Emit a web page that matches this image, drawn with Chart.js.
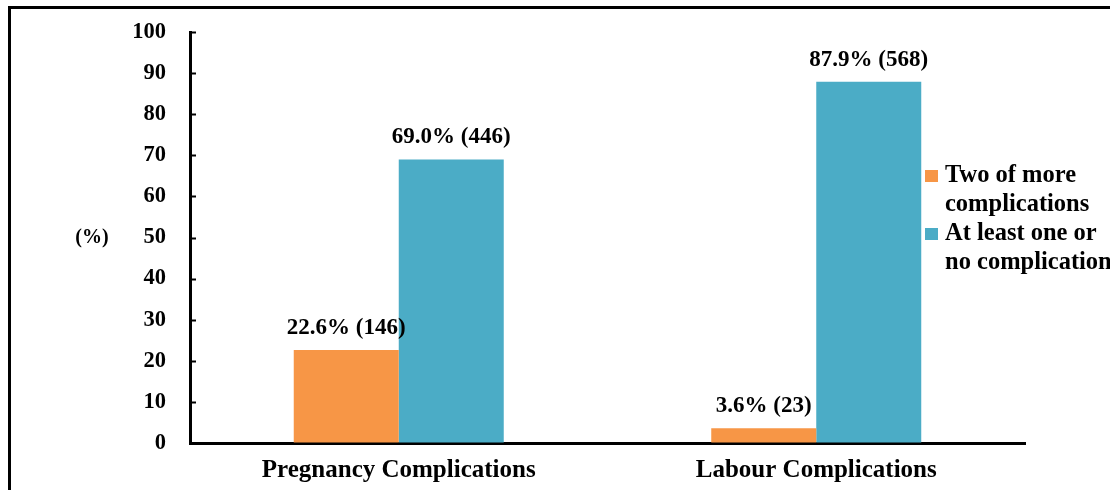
<!DOCTYPE html>
<html>
<head>
<meta charset="utf-8">
<script src="https://cdn.jsdelivr.net/npm/chart.js@4"></script>
<style>
  html, body { margin: 0; padding: 0; background: #fff; }
  #wrap { width: 1110px; height: 490px; position: relative; }
</style>
</head>
<body>
<div id="wrap"><canvas id="canvas" width="1110" height="490"></canvas></div>
<script>
var categories = ['Pregnancy Complications', 'Labour Complications'];
var seriesNames = [['Two of more', 'complications'], ['At least one or', 'no complications']];
var twoOrMore = [22.6, 3.6];
var twoOrMoreN = [146, 23];
var atLeastOne = [69.0, 87.9];
var atLeastOneN = [446, 568];
var yTicks = [0, 10, 20, 30, 40, 50, 60, 70, 80, 90, 100];

var FONT = '"Liberation Serif", "Times New Roman", serif';

// frame, y title, inward ticks, bar labels, legend
var extras = {
  id: 'extras',
  afterDraw: function(chart) {
    var ctx = chart.ctx;
    var y = chart.scales.y;
    var area = chart.chartArea;
    ctx.save();
    // outer frame
    ctx.strokeStyle = '#000';
    ctx.lineWidth = 3;
    ctx.beginPath();
    ctx.moveTo(9.5, 490);
    ctx.lineTo(9.5, 7.5);
    ctx.lineTo(1110, 7.5);
    ctx.stroke();
    // inward tick marks
    ctx.lineWidth = 2;
    yTicks.forEach(function(v) {
      var py = Math.round(y.getPixelForValue(v)) + 0.5;
      ctx.beginPath();
      ctx.moveTo(area.left, py);
      ctx.lineTo(area.left + 6, py);
      ctx.stroke();
    });
    // y title
    ctx.fillStyle = '#000';
    ctx.font = 'bold 20px ' + FONT;
    ctx.textAlign = 'center';
    ctx.textBaseline = 'middle';
    ctx.fillText('(%)', 92, y.getPixelForValue(50));
    // bar labels
    ctx.font = 'bold 23px ' + FONT;
    var counts = [twoOrMoreN, atLeastOneN];
    chart.data.datasets.forEach(function(ds, di) {
      chart.getDatasetMeta(di).data.forEach(function(bar, i) {
        var txt = ds.data[i].toFixed(1) + '% (' + counts[di][i] + ')';
        ctx.fillText(txt, bar.x, bar.y - 22);
      });
    });
    // legend
    ctx.textAlign = 'left';
    ctx.font = 'bold 24.5px ' + FONT;
    var ly = [176, 234];
    chart.data.datasets.forEach(function(ds, di) {
      ctx.fillStyle = ds.backgroundColor;
      ctx.fillRect(925, ly[di] - 6, 13, 12);
      ctx.fillStyle = '#000';
      seriesNames[di].forEach(function(line, k) {
        ctx.fillText(line, 945, ly[di] + k * 29);
      });
    });
    ctx.restore();
  }
};

new Chart(document.getElementById('canvas').getContext('2d'), {
  type: 'bar',
  data: {
    labels: categories,
    datasets: [{
      label: 'Two of more complications',
      data: twoOrMore,
      backgroundColor: '#F79646',
      borderWidth: 0
    }, {
      label: 'At least one or no complications',
      data: atLeastOne,
      backgroundColor: '#4BACC6',
      borderWidth: 0
    }]
  },
  options: {
    responsive: false,
    animation: false,
    devicePixelRatio: 1,
    layout: { padding: { left: 0, right: 85, top: 32, bottom: 0 } },
    datasets: { bar: { categoryPercentage: 0.503, barPercentage: 1.0 } },
    plugins: { legend: { display: false }, tooltip: { enabled: false } },
    scales: {
      x: {
        grid: { display: false, drawTicks: false },
        border: { color: '#000', width: 3 },
        ticks: { color: '#000', padding: 13, font: { family: FONT, size: 25, weight: 'bold' } },
        afterFit: function(s) { s.height = 47; }
      },
      y: {
        min: 0, max: 100,
        afterBuildTicks: function(s) { s.ticks = yTicks.map(function(v) { return { value: v }; }); },
        grid: { drawOnChartArea: false, drawTicks: false },
        border: { color: '#000', width: 3 },
        ticks: { color: '#000', padding: 24, font: { family: FONT, size: 22.5, weight: 'bold', lineHeight: 0.4 } },
        afterFit: function(s) { s.width = 190; s.paddingTop = 0; s.paddingBottom = 0; }
      }
    }
  },
  plugins: [extras]
});
</script>
</body>
</html>
